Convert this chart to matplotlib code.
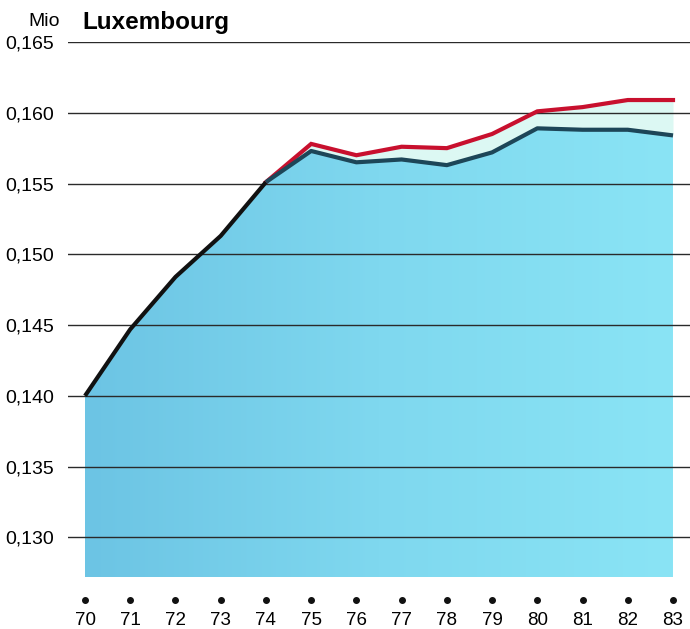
import numpy as np
import matplotlib.pyplot as plt
from matplotlib.colors import LinearSegmentedColormap

# Daten (Mio)
years = [70, 71, 72, 73, 74, 75, 76, 77, 78, 79, 80, 81, 82, 83]
year_labels = ["70", "71", "72", "73", "74", "75", "76", "77", "78", "79", "80", "81", "82", "83"]
lower = [0.1400, 0.1447, 0.1484, 0.1513, 0.1551, 0.1573, 0.1565, 0.1567,
         0.1563, 0.1572, 0.1589, 0.1588, 0.1588, 0.1584]
upper_years = [74, 75, 76, 77, 78, 79, 80, 81, 82, 83]
upper = [0.1551, 0.1578, 0.1570, 0.1576, 0.1575, 0.1585, 0.1601, 0.1604, 0.1609, 0.1609]
yticks = [0.130, 0.135, 0.140, 0.145, 0.150, 0.155, 0.160, 0.165]

plt.rcParams['font.family'] = ['Liberation Sans', 'DejaVu Sans']

fig = plt.figure(figsize=(6.9, 6.29), dpi=100)
ax = fig.add_axes([68 / 690, 1 - 577 / 629, 1 - 68 / 690, (577 - 42) / 629])

ymin, ymax = 0.1272, 0.165
ax.set_xlim(70 - 17 / 45.23, 83 + 17 / 45.23)
ax.set_ylim(ymin, ymax)

# Fläche mit Farbverlauf
cmap = LinearSegmentedColormap.from_list("cy", ["#6cc4e4", "#7fd8ef", "#8ae4f5"])
grad = np.linspace(0, 1, 256).reshape(1, -1)
im = ax.imshow(grad, cmap=cmap, aspect='auto', extent=[70, 83, ymin, ymax],
               origin='lower', zorder=1)
poly = ax.fill_between(years, ymin, lower, color='none', lw=0)
im.set_clip_path(poly.get_paths()[0], transform=ax.transData)

# Band zwischen beiden Linien
lower_sub = lower[4:]
ax.fill_between(upper_years, lower_sub, upper, color='#dcf8f3', lw=0, zorder=1.5)

# Gitterlinien
for y in yticks:
    ax.axhline(y, color='#2a2a2a', lw=1.0, zorder=2)

ax.plot(upper_years, upper, color='#c8102e', lw=3, zorder=3, solid_joinstyle='miter')
ax.plot(years[:5], lower[:5], color='#111111', lw=3, zorder=4, solid_capstyle='butt')
ax.plot(years[4:], lower[4:], color='#1d4658', lw=3, zorder=4, solid_capstyle='butt')

for s in ax.spines.values():
    s.set_visible(False)

ax.set_yticks(yticks)
ax.set_yticklabels([f"{v:.3f}".replace('.', ',') for v in yticks])
ax.tick_params(axis='y', length=0, pad=10, labelsize=14)

ax.set_xticks(years)
ax.set_xticklabels(year_labels)
ax.tick_params(axis='x', length=0, pad=25, labelsize=13.5)

# Punkte über den Jahreszahlen
ax.plot(years, [-0.043] * len(years), 'o', ms=4, color='#111111',
        transform=ax.get_xaxis_transform(), clip_on=False)

fig.text(28 / 690, 1 - 21 / 629, "Mio", fontsize=14, va='center', ha='left')
fig.text(82 / 690, 1 - 22 / 629, "Luxembourg", fontsize=17.5, fontweight='bold',
         va='center', ha='left')

fig.savefig("out.png", dpi=100)
